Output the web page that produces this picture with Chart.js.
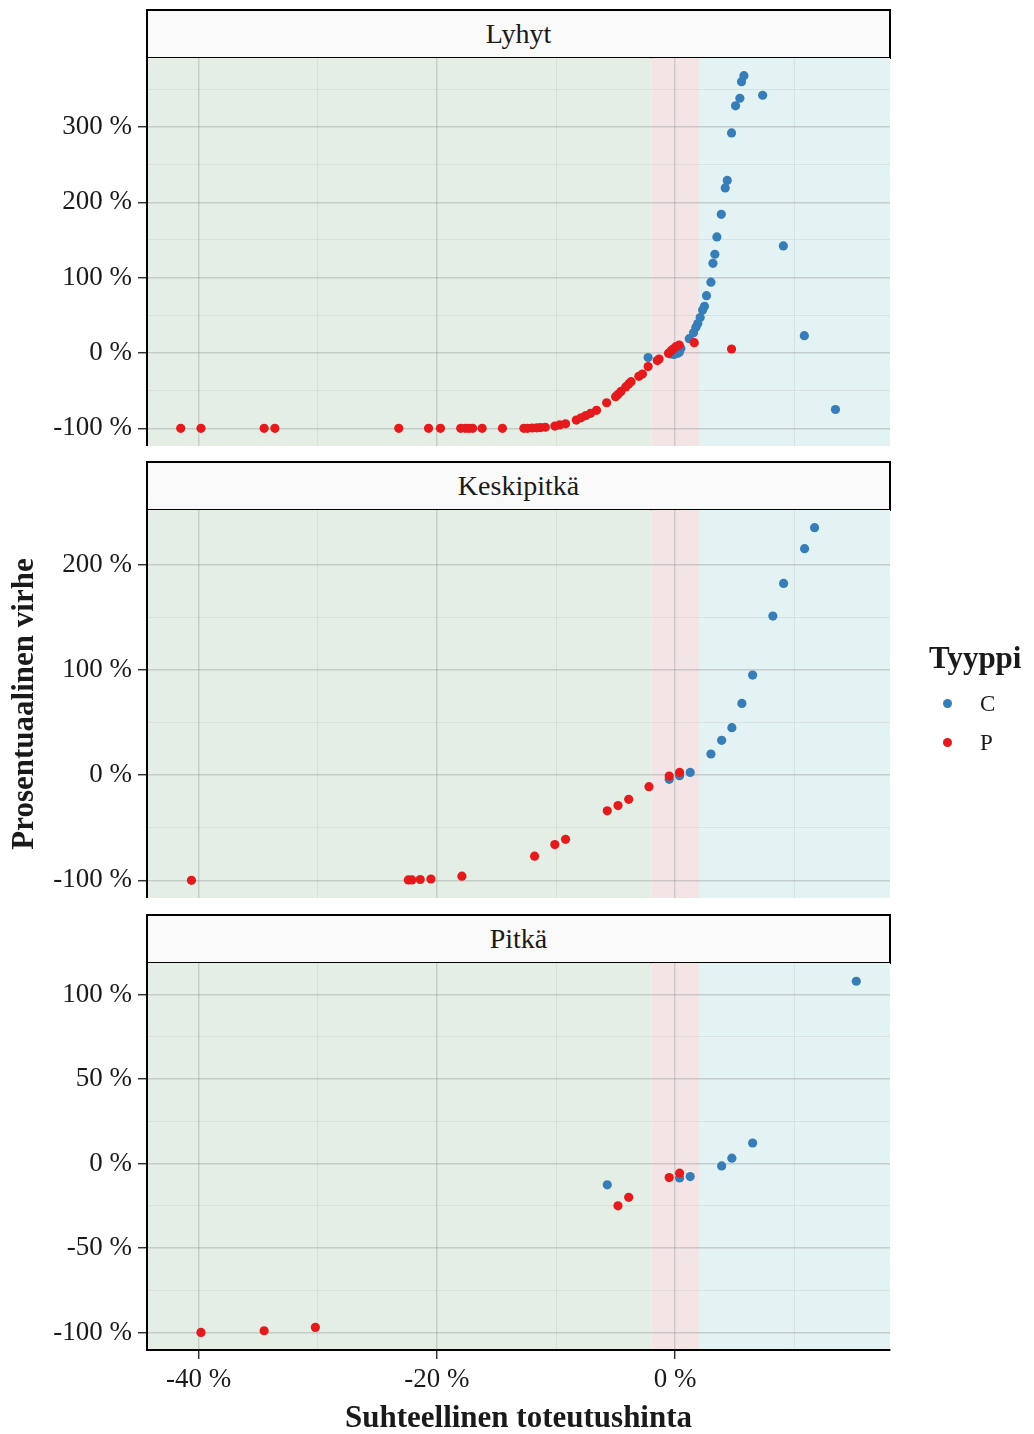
<!DOCTYPE html>
<html>
<head>
<meta charset="utf-8">
<script src="https://cdn.jsdelivr.net/npm/chart.js@4.4.1/dist/chart.umd.min.js"></script>
<style>
  html, body { margin: 0; padding: 0; background: #ffffff; }
  body { position: relative; width: 1034px; height: 1434px; overflow: hidden;
         font-family: "Liberation Serif", "DejaVu Serif", serif; color: #1a1a1a; }
  canvas { position: absolute; left: 0; }
  .strip { position: absolute; left: 146px; width: 745px; height: 50px; box-sizing: border-box;
           border: 2px solid #000; background: #f9f9f9; text-align: center;
           font-size: 28px; line-height: 45px; color: #1a1a1a; }
  #legend { position: absolute; left: 929px; top: 640px; }
  #legend .title { font-weight: bold; font-size: 31px; line-height: 36px; margin-bottom: 8px; }
  #legend .item { position: relative; height: 39px; font-size: 23px; line-height: 39px; }
  #legend .dot { position: absolute; left: 14px; top: 15px; width: 9px; height: 9px; border-radius: 50%; }
  #legend .lab { position: absolute; left: 51px; top: 0; }
</style>
</head>
<body>
<script>
// ---- scale settings ----
const xLimits = [-44.33, 18.03];
const xMajorTicks = [-40, -20, 0];
const xMinorTicks = [-30, -10, 10];
const bandEdges = [-2, 2];

const panelNames = ['Lyhyt', 'Keskipitkä', 'Pitkä'];
const typeNames = ['C', 'P'];
const typeColors = ['#377EB8', '#E41A1C'];

// ---- Lyhyt ----
const lyhytLimits = [-123.4, 391.4];
const lyhytMajor = [-100, 0, 100, 200, 300];
const lyhytMinor = [-50, 50, 150, 250, 350];
const lyhytCx = [-2.27, -0.36, -0.1, 0.2, 0.35, 0.48, 1.18, 1.54, 1.74, 1.9, 2.1, 2.3, 2.46, 2.63, 3.0, 3.17,
                 3.33, 3.5, 3.87, 4.2, 4.37, 4.73, 5.07, 5.43, 5.57, 5.77, 7.34, 9.08, 10.84, 13.45];
const lyhytCy = [-6, -1.3, -2, -0.4, 1, 6, 19, 27, 34, 39, 47, 57, 62, 76, 94, 119,
                 131, 154, 184, 219, 229, 292, 328, 338, 360, 368, 342, 142, 23, -75];
const lyhytPx = [-41.5, -39.8, -34.5, -33.6, -23.2, -20.7, -19.7, -18.0, -17.6, -17.3, -17.0, -16.2, -14.5,
                 -12.7, -12.4, -12.0, -11.6, -11.3, -10.9, -10.1, -9.7, -9.2, -8.3, -7.9, -7.5, -7.1, -6.6,
                 -5.75, -5.0, -4.8, -4.55, -4.15, -3.9, -3.7, -3.05, -2.75, -2.27, -1.5, -1.35, -0.56, -0.36,
                 -0.17, 0.06, 0.34, 1.6, 4.73];
const lyhytPy = [-100, -100, -100, -100, -100, -100, -100, -100, -100, -100, -100, -100, -100,
                 -100, -100, -99.5, -99.3, -99, -98.5, -97, -95.5, -94, -89, -86, -83, -80, -76,
                 -66, -58, -55, -51, -45, -41, -38, -31, -28, -18, -10, -8, -0.4, 2.7,
                 5.3, 8.4, 10.6, 13.7, 5.3];

// ---- Keskipitkä ----
const keskiLimits = [-116.75, 251.75];
const keskiMajor = [-100, 0, 100, 200];
const keskiMinor = [-50, 50, 150];
const keskiCx = [-0.5, 0.37, 1.26, 3.0, 3.9, 4.76, 5.6, 6.5, 8.2, 9.1, 10.86, 11.7];
const keskiCy = [-4, -0.6, 2.5, 20, 33, 45, 68, 95, 151, 182, 215, 235];
const keskiPx = [-40.6, -22.4, -22.1, -21.4, -20.5, -17.9, -11.8, -10.1, -9.2, -5.7, -4.8, -3.9, -2.2, -0.5, 0.37];
const keskiPy = [-100, -99.6, -99.6, -99.2, -98.7, -96, -77, -66, -61, -34, -29, -23, -11, -1, 2.5];

// ---- Pitkä ----
const pitkaLimits = [-110.4, 118.8];
const pitkaMajor = [-100, -50, 0, 50, 100];
const pitkaMinor = [-75, -25, 25, 75];
const pitkaCx = [-5.7, 0.37, 1.26, 3.9, 4.76, 6.5, 15.2];
const pitkaCy = [-12.6, -8.5, -7.7, -1.4, 3.2, 12.2, 108];
const pitkaPx = [-39.8, -34.5, -30.2, -4.8, -3.9, -0.5, 0.37];
const pitkaPy = [-100, -99, -97, -25, -20, -8.3, -5.7];

// ---- layout & style ----
const PAGE_W = 1034;
const PLOT_LEFT = 147;
const PLOT_RIGHT = 890;
const FONT = '"Liberation Serif", "DejaVu Serif", serif';
const TEXT_COLOR = '#1a1a1a';
const GRID_MAJOR = 'rgba(150,150,150,0.40)';
const GRID_MINOR = 'rgba(160,160,160,0.20)';
const FILL_BELOW = '#E5EEE5';
const FILL_BAND = '#F3E5E6';
const FILL_ABOVE = '#E3F2F2';
const POINT_R = 4.6;

const panelSpecs = [
  { top: 58,  plotH: 388, limits: lyhytLimits, major: lyhytMajor, minor: lyhytMinor,
    cx: lyhytCx, cy: lyhytCy, px: lyhytPx, py: lyhytPy },
  { top: 510, plotH: 388, limits: keskiLimits, major: keskiMajor, minor: keskiMinor,
    cx: keskiCx, cy: keskiCy, px: keskiPx, py: keskiPy, yTitle: 'Prosentuaalinen virhe' },
  { top: 963, plotH: 387, limits: pitkaLimits, major: pitkaMajor, minor: pitkaMinor,
    cx: pitkaCx, cy: pitkaCy, px: pitkaPx, py: pitkaPy, xTitle: 'Suhteellinen toteutushinta', axisH: 84 }
];

// shaded zones behind the grid: below, inside and above the band
const zonePlugin = {
  id: 'zones',
  beforeDraw(chart) {
    const { ctx, chartArea: a, scales: { x } } = chart;
    const l = x.getPixelForValue(bandEdges[0]);
    const r = x.getPixelForValue(bandEdges[1]);
    ctx.save();
    ctx.fillStyle = FILL_BELOW; ctx.fillRect(a.left, a.top, l - a.left, a.bottom - a.top);
    ctx.fillStyle = FILL_BAND;  ctx.fillRect(l, a.top, r - l, a.bottom - a.top);
    ctx.fillStyle = FILL_ABOVE; ctx.fillRect(r, a.top, a.right - r, a.bottom - a.top);
    ctx.restore();
  }
};

function tickList(major, minor) {
  return major.concat(minor).sort((a, b) => a - b).map(v => ({ value: v }));
}
function pts(xs, ys) { return xs.map((x, i) => ({ x: x, y: ys[i] })); }

function buildPanel(idx) {
  const s = panelSpecs[idx];
  const strip = document.createElement('div');
  strip.className = 'strip';
  strip.style.top = (s.top - 49) + 'px';
  strip.textContent = panelNames[idx];
  document.body.appendChild(strip);

  const axisH = s.axisH || 0;
  const canvas = document.createElement('canvas');
  canvas.width = PAGE_W;
  canvas.height = s.plotH + axisH;
  canvas.style.top = s.top + 'px';
  document.body.appendChild(canvas);

  const hasX = !!s.xTitle;
  const gridOf = (major) => ({
    color: c => major.includes(c.tick.value) ? GRID_MAJOR : GRID_MINOR,
    lineWidth: c => major.includes(c.tick.value) ? 1.4 : 0.9,
    tickColor: c => major.includes(c.tick.value) ? '#333333' : 'rgba(0,0,0,0)',
    tickLength: 9,
    tickWidth: 1.5
  });

  const xGrid = gridOf(xMajorTicks);
  if (!hasX) xGrid.drawTicks = false;

  new Chart(canvas, {
    type: 'scatter',
    data: {
      datasets: [
        { label: typeNames[0], data: pts(s.cx, s.cy), backgroundColor: typeColors[0],
          borderWidth: 0, pointRadius: POINT_R, pointHoverRadius: POINT_R, order: 1 },
        { label: typeNames[1], data: pts(s.px, s.py), backgroundColor: typeColors[1],
          borderWidth: 0, pointRadius: POINT_R, pointHoverRadius: POINT_R, order: 0 }
      ]
    },
    options: {
      responsive: false,
      animation: false,
      devicePixelRatio: 1,
      layout: { autoPadding: false, padding: { left: 0, right: PAGE_W - PLOT_RIGHT, top: 0, bottom: 0 } },
      plugins: { legend: { display: false }, tooltip: { enabled: false } },
      scales: {
        x: {
          type: 'linear',
          min: xLimits[0], max: xLimits[1],
          afterBuildTicks: sc => { sc.ticks = tickList(xMajorTicks, xMinorTicks); },
          afterFit: sc => { sc.height = axisH; sc.paddingLeft = 0; sc.paddingRight = 0; },
          ticks: {
            display: hasX, autoSkip: false, maxRotation: 0, padding: 5, color: TEXT_COLOR,
            font: { family: FONT, size: 27 },
            callback: v => xMajorTicks.includes(v) ? v + ' %' : ''
          },
          grid: xGrid,
          border: { display: hasX, color: '#000000', width: 2 },
          title: {
            display: hasX, text: s.xTitle || '', color: TEXT_COLOR,
            font: { family: FONT, size: 31, weight: 'bold', lineHeight: 1.0 }, padding: { top: 0, bottom: 0 }
          }
        },
        y: {
          type: 'linear',
          min: s.limits[0], max: s.limits[1],
          afterBuildTicks: sc => { sc.ticks = tickList(s.major, s.minor); },
          afterFit: sc => { sc.width = PLOT_LEFT; sc.paddingTop = 0; sc.paddingBottom = 0; },
          ticks: {
            autoSkip: false, padding: 6, color: TEXT_COLOR,
            font: { family: FONT, size: 27 },
            callback: v => s.major.includes(v) ? v + ' %' : ''
          },
          grid: gridOf(s.major),
          border: { display: true, color: '#000000', width: 2 },
          title: {
            display: !!s.yTitle, text: s.yTitle || '', color: TEXT_COLOR,
            font: { family: FONT, size: 31, weight: 'bold' }, padding: { top: 6, bottom: 0 }
          }
        }
      }
    },
    plugins: [zonePlugin]
  });
}

panelSpecs.forEach((_, i) => buildPanel(i));

// legend for the point types
const legend = document.createElement('div');
legend.id = 'legend';
const lt = document.createElement('div');
lt.className = 'title';
lt.textContent = 'Tyyppi';
legend.appendChild(lt);
typeNames.forEach((name, i) => {
  const item = document.createElement('div');
  item.className = 'item';
  const dot = document.createElement('span');
  dot.className = 'dot';
  dot.style.background = typeColors[i];
  const lab = document.createElement('span');
  lab.className = 'lab';
  lab.textContent = name;
  item.appendChild(dot);
  item.appendChild(lab);
  legend.appendChild(item);
});
document.body.appendChild(legend);
</script>
</body>
</html>
